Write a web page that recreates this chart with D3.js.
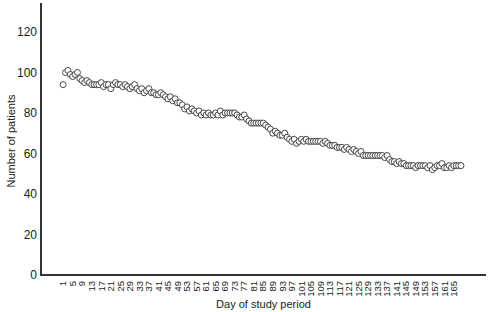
<!DOCTYPE html>
<html>
<head>
<meta charset="utf-8">
<script src="https://cdn.jsdelivr.net/npm/d3@7"></script>
<style>
  body { margin: 0; background: #fff; }
  text { font-family: "Liberation Sans", Arial, sans-serif; }
</style>
</head>
<body>
<svg id="drawing_region"></svg>
<script>
// number of patients per day of the study period (days 1..168)
const patients = [
  94, 100, 101, 99, 98, 99, 100, 97, 96, 95,
  96, 95, 94, 94, 94, 94, 95, 93, 94, 94,
  92, 94, 95, 94, 94, 93, 94, 93, 92, 93,
  94, 92, 91, 92, 90, 91, 92, 90, 90, 89,
  89, 90, 89, 88, 87, 88, 86, 87, 85, 85,
  84, 82, 83, 81, 82, 81, 80, 81, 79, 80,
  79, 80, 79, 79, 80, 79, 81, 79, 80, 80,
  80, 80, 80, 79, 78, 78, 79, 77, 76, 75,
  75, 75, 75, 75, 75, 74, 73, 72, 70, 71,
  70, 69, 69, 70, 68, 67, 66, 67, 65, 66,
  67, 66, 67, 66, 66, 66, 66, 66, 66, 65,
  66, 65, 64, 64, 64, 63, 63, 63, 62, 63,
  62, 61, 62, 61, 60, 61, 59, 59, 59, 59,
  59, 59, 59, 59, 59, 58, 59, 57, 56, 56,
  55, 56, 55, 55, 54, 54, 54, 54, 53, 54,
  54, 54, 54, 53, 54, 52, 53, 54, 54, 55,
  53, 53, 54, 53, 54, 54, 54, 54
];
const days = patients.map((d, i) => i + 1);
const xticks = d3.range(1, 166, 4);
const yticks = [0, 20, 40, 60, 80, 100, 120];

const data = days.map((d, i) => ({ x: d, y: patients[i] }));

class DotPlot {
    constructor( config, data ) {
        this.config = config;
        this.data = data;
        this.init();
    }

    init() {
        let self = this;
        const c = self.config;

        self.svg = d3.select( c.parent )
            .attr('width', c.width)
            .attr('height', c.height);

        self.xscale = d3.scaleLinear()
            .domain( [-8.3, 178.5] )
            .range( [c.left, c.right] );

        self.yscale = d3.scaleLinear()
            .domain( [0, 134.3] )
            .range( [c.bottom, c.top] );
    }

    render() {
        let self = this;
        const c = self.config;

        // y tick labels (no tick marks)
        self.svg.append('g')
            .selectAll('text')
            .data(yticks)
            .join('text')
            .attr('x', c.left - 4)
            .attr('y', d => self.yscale(d))
            .attr('dy', '0.36em')
            .attr('text-anchor', 'end')
            .attr('font-size', '12px')
            .attr('fill', '#222')
            .text(d => d);

        // x tick labels, rotated
        self.svg.append('g')
            .selectAll('text')
            .data(xticks)
            .join('text')
            .attr('transform', d => `translate(${self.xscale(d)}, ${c.bottom + 6}) rotate(-90)`)
            .attr('dy', '0.34em')
            .attr('text-anchor', 'end')
            .attr('font-size', '9.5px')
            .attr('fill', '#222')
            .text(d => d);

        // dots
        self.svg.append('g')
            .selectAll('circle')
            .data(self.data)
            .join('circle')
            .attr('cx', d => self.xscale(d.x))
            .attr('cy', d => self.yscale(d.y))
            .attr('r', 3)
            .attr('fill', 'white')
            .attr('stroke', '#333')
            .attr('stroke-width', 0.9);

        // axes lines
        self.svg.append('line')
            .attr('x1', c.left).attr('x2', c.left)
            .attr('y1', c.top).attr('y2', c.bottom + 1)
            .attr('stroke', '#333').attr('stroke-width', 2);
        self.svg.append('line')
            .attr('x1', c.left - 1).attr('x2', c.right)
            .attr('y1', c.bottom).attr('y2', c.bottom)
            .attr('stroke', '#333').attr('stroke-width', 2);

        // axis titles
        self.svg.append('text')
            .attr('x', (c.left + c.right) / 2)
            .attr('y', 308)
            .attr('text-anchor', 'middle')
            .attr('font-size', '11px')
            .attr('fill', '#222')
            .text(c.xlabel);

        self.svg.append('text')
            .attr('transform', `translate(15, ${(c.top + c.bottom) / 2 + 2}) rotate(-90)`)
            .attr('text-anchor', 'middle')
            .attr('font-size', '11px')
            .attr('fill', '#222')
            .text(c.ylabel);
    }
}

const plot = new DotPlot({
    parent: '#drawing_region',
    width: 488,
    height: 312,
    left: 41,
    right: 486,
    top: 3,
    bottom: 275,
    xlabel: 'Day of study period',
    ylabel: 'Number of patients'
}, data);
plot.render();
</script>
</body>
</html>
